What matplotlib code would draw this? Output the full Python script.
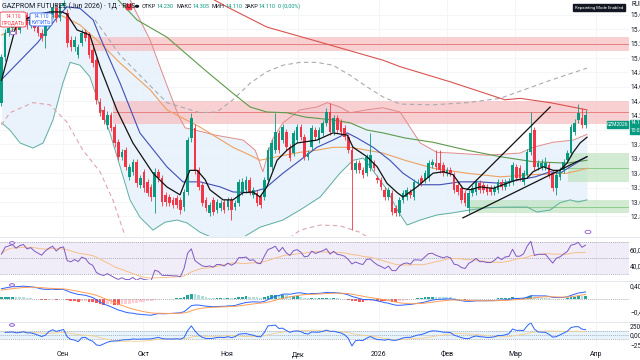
import numpy as np
import pandas as pd
import matplotlib
matplotlib.use("Agg")
import matplotlib.pyplot as plt
import matplotlib.transforms as mtrans
from matplotlib.patches import Rectangle, FancyBboxPatch, Circle

plt.rcParams['font.family'] = ['Roboto', 'DejaVu Sans']

# ---------------- DATA ----------------
opens = [14.38,15.01,15.35,15.42,15.50,15.39,15.53,15.60,15.46,15.53,
         15.43,15.35,15.30,15.46,15.60,15.70,15.55,15.72,15.63,15.25,
         15.15,15.04,15.21,15.36,15.32,15.11,14.97,14.39,14.28,14.07,
         14.21,14.04,13.83,13.63,13.72,13.35,13.42,13.56,13.24,13.42,
         13.28,13.21,13.07,13.42,13.33,13.10,13.07,13.03,13.06,13.03,
         12.93,13.14,13.89,14.03,13.44,13.24,13.03,12.85,13.03,12.89,
         12.92,13.00,12.93,13.03,12.93,12.99,13.14,13.17,13.31,13.10,
         13.13,13.07,13.07,13.31,13.49,13.72,13.96,13.86,13.97,13.76,
         13.68,13.86,14.04,13.90,13.63,13.76,14.00,13.86,13.96,14.10,
         14.25,13.97,14.17,14.11,14.03,13.90,13.72,13.44,13.54,13.44,
         13.40,13.47,13.54,13.33,13.31,13.17,13.07,13.13,12.92,12.85,
         13.03,13.07,13.14,13.07,13.26,13.33,13.31,13.33,13.51,13.54,
         13.54,13.51,13.40,13.44,13.38,13.24,13.19,13.13,12.92,13.13,
         13.14,13.26,13.24,13.21,13.19,13.14,13.17,13.28,13.21,13.26,
         13.28,13.49,13.47,13.28,13.38,13.69,14.00,13.49,13.49,13.49,
         13.51,13.40,13.19,13.35,13.44,13.58,13.68,13.97,14.14,14.17,
         14.07]
closes = [15.01,15.35,15.42,15.50,15.39,15.53,15.60,15.46,15.53,15.42,
          15.35,15.28,15.46,15.60,15.70,15.55,15.72,15.76,15.21,15.15,
          15.25,15.15,15.35,15.28,15.04,14.93,14.42,14.24,14.14,14.21,
          14.03,13.82,13.63,13.69,13.49,13.49,13.56,13.26,13.33,13.19,
          13.13,13.07,13.42,13.33,13.00,13.00,12.99,12.96,12.96,12.89,
          13.14,13.86,14.17,13.44,13.21,12.99,12.92,12.96,12.86,13.00,
          12.99,12.89,13.03,12.89,12.99,13.28,13.28,13.31,13.14,13.17,
          12.99,12.96,13.31,13.72,13.82,13.97,13.72,14.04,13.76,13.61,
          13.96,14.04,13.90,13.63,13.68,14.03,13.90,14.00,14.10,14.25,
          13.97,14.17,14.00,13.97,13.90,13.72,13.44,13.54,13.44,13.38,
          13.63,13.65,13.47,13.31,13.21,13.07,13.17,12.86,12.85,13.03,
          13.13,13.17,13.10,13.28,13.28,13.26,13.40,13.54,13.56,13.49,
          13.44,13.40,13.44,13.40,13.17,13.14,13.03,12.99,13.13,13.19,
          13.28,13.17,13.17,13.14,13.14,13.19,13.28,13.21,13.28,13.29,
          13.51,13.33,13.33,13.40,13.69,13.96,13.49,13.54,13.54,13.54,
          13.38,13.19,13.38,13.44,13.56,13.68,14.04,14.10,14.24,14.07,
          14.21]
highs = [15.06,15.40,15.47,15.55,15.56,15.58,15.65,15.64,15.58,15.57,
         15.48,15.40,15.50,15.65,15.76,15.75,15.77,15.80,15.68,15.30,
         15.30,15.20,15.40,15.40,15.36,15.16,15.02,14.45,14.33,14.26,
         14.25,14.08,13.88,13.74,13.76,13.53,13.60,13.60,13.37,13.46,
         13.32,13.25,13.47,13.46,13.37,13.14,13.11,13.07,13.10,13.07,
         13.18,13.90,14.24,14.08,13.48,13.28,13.07,13.00,13.07,13.04,
         13.03,13.04,13.07,13.07,13.03,13.32,13.33,13.36,13.35,13.21,
         13.17,13.11,13.35,13.76,13.87,14.24,14.00,14.08,14.01,13.80,
         14.00,14.08,14.08,13.94,13.72,14.07,14.04,14.04,14.14,14.30,
         14.38,14.21,14.21,14.15,14.07,13.94,13.76,13.58,13.58,13.48,
         13.67,13.96,13.58,13.37,13.35,13.21,13.21,13.17,12.96,13.07,
         13.17,13.21,13.18,13.32,13.32,13.37,13.44,13.58,13.60,13.72,
         13.72,13.55,13.48,13.48,13.42,13.28,13.23,13.17,13.17,13.23,
         13.32,13.30,13.28,13.25,13.23,13.23,13.32,13.32,13.32,13.33,
         13.56,13.53,13.51,13.44,13.74,14.25,14.04,13.58,13.60,13.62,
         13.55,13.44,13.42,13.48,13.60,13.72,14.08,14.16,14.36,14.30,
         14.28]
lows = [14.33,14.96,15.30,15.38,15.34,15.35,15.48,15.41,15.42,15.37,
        15.30,15.23,15.14,15.42,15.56,15.50,15.51,15.68,15.16,15.10,
        15.10,15.00,15.17,15.24,15.00,14.88,14.36,14.19,14.09,14.02,
        13.98,13.77,13.58,13.58,13.44,13.30,13.37,13.21,13.19,13.14,
        13.08,13.02,12.85,13.28,12.95,12.95,12.94,12.91,12.91,12.84,
        12.88,13.10,13.84,13.39,13.16,12.94,12.87,12.81,12.82,12.85,
        12.88,12.85,12.89,12.75,12.89,12.95,13.10,13.13,13.10,13.06,
        12.95,12.92,13.03,13.27,13.45,13.68,13.68,13.82,13.72,13.57,
        13.64,13.82,13.86,13.58,13.59,13.72,13.86,13.82,13.92,14.06,
        13.93,13.93,13.96,13.93,13.86,13.68,12.61,13.40,13.40,13.34,
        13.36,13.43,13.43,13.27,13.17,13.03,13.03,12.82,12.81,12.81,
        12.99,13.03,13.06,13.03,13.22,13.22,13.27,13.29,13.47,13.45,
        13.40,13.36,13.36,13.36,13.13,13.10,12.99,12.95,12.85,13.09,
        13.10,13.13,13.13,13.10,13.10,13.10,13.13,13.17,13.17,13.22,
        13.24,13.29,13.29,13.24,13.34,13.65,13.45,13.45,13.45,13.45,
        13.34,13.15,13.10,13.31,13.40,13.54,13.64,13.93,14.10,14.03,
        14.03]

month_pos = [16.8, 38.8, 61.8, 81.2, 103.4, 122.0, 140.7, 162.9]
month_labels = ['Сен', 'Окт', 'Ноя', 'Дек', '2026', 'Фев', 'Мар', 'Апр']
price_ticks = [12.8, 13.0, 13.2, 13.4, 13.6, 13.8, 14.0, 14.2, 14.4, 14.6, 14.8, 15.0, 15.2, 15.4, 15.6]

rsi_start = 55.0
rsi_move = 0.05
macd_ema12_start = 14.75
macd_ema26_start = 14.45
macd_signal_start = 0.25

# overlay lines (bar index, price)
ema_fast_x = [0,4.2,9.2,13.3,16.6,17.9,20.7,24.2,27.0,31.6,36.0,41.5,45.3,48.9,50.3,51.6,53.6,55.8,57.1,60.7,63.4,66.2,68.9,70.8,72.7,75.5,78.2,81.0,86.4,90.8,94.7,96.3,100.1,102.9,105.6,108.4,110.0,113.8,118.2,121.0,123.7,126.4,128.4,131.1,134.7,137.4,141.2,144.0,145.6,148.4,151.1,153.0,154.9,156.6,158.5,160.4]
ema_fast_y = [14.69,15.49,15.60,15.64,15.64,15.61,15.39,15.32,14.88,14.28,13.82,13.40,13.21,13.10,13.28,13.44,13.44,13.31,13.17,13.03,13.03,13.13,13.14,13.07,13.21,13.58,13.72,13.82,13.86,13.96,13.93,13.76,13.63,13.49,13.26,13.13,13.07,13.21,13.40,13.42,13.38,13.19,13.17,13.21,13.19,13.24,13.31,13.33,13.42,13.49,13.44,13.44,13.54,13.69,13.82,13.90]
ma_blue_x = [0,10.0,14.7,17.9,21.5,25.1,27.0,32.5,37.9,45.3,49.7,54.4,59.9,63.4,68.1,72.2,77.1,81.8,86.4,90.8,94.7,97.4,101.8,106.4,110.0,114.7,120.1,125.6,131.1,136.6,142.1,146.2,150.3,153.0,155.8,160.4]
ma_blue_y = [14.70,15.22,15.53,15.71,15.69,15.53,15.29,14.65,13.96,13.49,13.28,13.28,13.21,13.14,13.13,13.19,13.40,13.58,13.76,13.86,13.96,13.89,13.76,13.58,13.40,13.24,13.24,13.28,13.28,13.26,13.31,13.35,13.42,13.40,13.49,13.63]
ma_orange_x = [0,7.8,16.0,21.5,27.0,32.5,40.7,45.3,54.4,63.4,68.1,70.8,75.5,81.8,86.4,90.8,95.5,100.1,104.5,110.5,118.2,127.5,136.6,145.6,154.9,160.7]
ma_orange_y = [15.32,15.50,15.60,15.46,15.21,14.93,14.56,14.28,14.04,13.76,13.65,13.58,13.63,13.69,13.72,13.76,13.76,13.72,13.68,13.58,13.47,13.40,13.35,13.38,13.40,13.47]
ma_green_x = [28.4,31.9,37.1,45.3,55.8,63.4,68.1,72.7,78.2,83.2,90.8,95.5,100.1,104.5,110.5,118.2,127.5,136.6,145.6,154.9,160.4]
ma_green_y = [15.94,15.81,15.53,15.29,14.83,14.51,14.32,14.25,14.24,14.18,14.14,14.10,14.00,13.96,13.89,13.83,13.72,13.63,13.56,13.54,13.58]
ma_red_x = [56.7,61.8,72.7,87.3,104.5,109.2,122.9,137.9,142.1,150.3,160.4]
ma_red_y = [15.85,15.71,15.43,15.22,14.97,14.88,14.67,14.42,14.44,14.38,14.28]
bb_up_x = [0,16.0,27.0,35.2,40.7,44.8,48.4,50.3,53.0,58.5,66.2,69.5,71.6,74.1,77.1,81.8,86.4,89.2,92.7,95.5,100.1,104.5,109.2,111.9,114.7,119.3,123.7,133.0,142.1,145.6,151.1,156.6,160.4]
bb_up_y = [16.08,16.15,15.94,15.81,15.25,14.69,14.21,14.03,14.00,13.93,13.86,13.72,13.42,13.86,14.10,14.28,14.32,14.38,14.32,14.24,14.28,14.31,14.25,14.04,13.82,13.69,13.68,13.65,13.68,13.76,13.83,13.86,13.94]
bb_lo_x = [0,2.3,5.1,8.6,11.4,14.1,16.8,18.8,21.5,24.2,27.0,29.7,32.5,35.2,37.9,41.5,44.8,48.1,50.8,54.4,62.6,70.8,77.1,81.8,87.3,92.7,96.3,99.1,101.0,105.6,108.4,111.1,114.7,119.3,123.7,128.4,133.0,138.5,144.0,146.7,150.3,153.0,155.8,157.9,160.4]
bb_lo_y = [14.10,14.00,13.82,13.75,13.82,14.14,14.65,14.94,14.90,14.74,14.32,13.96,13.49,13.03,12.79,12.61,12.72,12.75,12.71,12.58,12.40,12.65,12.75,12.89,13.07,13.40,13.58,13.61,13.49,13.17,12.89,12.68,12.75,12.82,12.85,12.89,12.92,12.93,12.93,12.86,12.89,12.99,13.03,13.00,13.03]
env_up_x = [25.6,32.5,45.3,54.4,59.0,63.4,68.1,72.7,77.1,81.8,86.4,90.8,95.5,100.1,104.5,109.2,118.2,127.5,136.6,150.3,160.4]
env_up_y = [15.53,15.04,14.38,14.24,14.25,14.42,14.65,14.81,14.90,14.94,14.94,14.90,14.76,14.60,14.46,14.36,14.35,14.38,14.44,14.69,14.86]
env_lo_x = [0,2.3,8.6,13.3,17.9,22.3,27.0,30.5,33.3,35.2,54.4,76.3,81.8,87.3,92.7,98.2,103.7]
env_lo_y = [14.07,14.24,14.38,14.35,14.11,13.72,13.42,13.03,12.61,12.33,11.64,12.40,12.61,12.68,12.67,12.58,12.40]

red_zones = [(23.7, 15.10, 15.29, 15.20), (30.5, 14.08, 14.40, 14.25)]
green_zones = [(155.2, 13.28, 13.68, 13.47), (128.4, 12.85, 13.03, 12.93)]
trend_lines = [((126.4, 12.78), (160.4, 13.63)), ((127.5, 13.17), (150.3, 14.32))]

hdr_pairs = [('ОТКР', '14.230'), ('МАКС', '14.305'), ('МИН', '14.110'), ('ЗАКР', '14.110'), ('', '0 (0,00%)')]

# ---------------- FIGURE ----------------
W, H = 640, 360
fig = plt.figure(figsize=(6.4, 3.6), dpi=100)
fig.patch.set_facecolor('white')
XR = 629 / W

def fy(px):
    return 1 - px / H

ax = fig.add_axes([0, fy(236), XR, 236 / H])
ax_rsi = fig.add_axes([0, fy(280), XR, 43 / H], sharex=ax)
ax_macd = fig.add_axes([0, fy(321), XR, 40 / H], sharex=ax)
ax_cci = fig.add_axes([0, fy(348), XR, 26 / H], sharex=ax)

n = len(closes)
x = np.arange(n)
XMIN, XMAX = -0.41, 171.9
ax.set_xlim(XMIN, XMAX)
ax.set_ylim(12.528, 15.806)

for a in (ax, ax_rsi, ax_macd, ax_cci):
    a.set_facecolor('white')
    for s in a.spines.values():
        s.set_visible(False)
    a.yaxis.tick_right()
    a.tick_params(axis='y', length=0, pad=0.8, labelsize=4.8, colors='#131722')
    a.tick_params(axis='x', length=0, labelbottom=False)
    a.set_xticks([])
    for v in month_pos:
        a.axvline(v, color='#f2f4f8', lw=0.6, zorder=0)

for yy in (236.5, 280.5, 321.5):
    fig.add_artist(plt.Line2D([0, 1], [fy(yy), fy(yy)], color='#e0e3eb', lw=0.6))

ax.set_yticks(price_ticks)
ax.set_yticklabels(['%.3f' % p for p in price_ticks])
for p in price_ticks:
    ax.axhline(p, color='#f2f4f8', lw=0.6, zorder=0)

gx = np.linspace(0, 160.4, 600)
up_i = np.interp(gx, bb_up_x, bb_up_y)
lo_i = np.interp(gx, bb_lo_x, bb_lo_y)
ax.fill_between(gx, lo_i, up_i, color='#e3f0fb', alpha=0.75, lw=0, zorder=1)

for sx, lo, hi, mid in red_zones:
    ax.add_patch(Rectangle((sx, lo), XMAX - sx, hi - lo, color='#f7b7b9', alpha=0.65, lw=0, zorder=1.5))
    ax.plot([sx, XMAX], [mid, mid], color='#e57373', lw=0.6, zorder=1.6)
for sx, lo, hi, mid in green_zones:
    ax.add_patch(Rectangle((sx, lo), XMAX - sx, hi - lo, color='#bfe3c0', alpha=0.7, lw=0, zorder=1.5))
    ax.plot([sx, XMAX], [mid, mid], color='#81c784', lw=0.6, zorder=1.6)

ax.plot(bb_up_x, bb_up_y, color='#e08a8a', lw=0.7, zorder=2)
ax.plot(bb_lo_x, bb_lo_y, color='#5fae9f', lw=0.7, zorder=2)
ax.plot(env_up_x, env_up_y, color='#a9a9b0', lw=0.8, ls=(0, (4, 3)), zorder=2)
ax.plot(env_lo_x, env_lo_y, color='#e0a4ae', lw=0.8, ls=(0, (4, 3)), zorder=2)
ax.plot(ma_red_x, ma_red_y, color='#d9534f', lw=0.8, zorder=2.2)
ax.plot(ma_green_x, ma_green_y, color='#5e9a4a', lw=0.8, zorder=2.2)
ax.plot(ma_orange_x, ma_orange_y, color='#eea160', lw=0.8, zorder=2.2)
ax.plot(ma_blue_x, ma_blue_y, color='#3d4fb5', lw=0.8, zorder=2.3)

up_c, dn_c = '#089981', '#f23645'
cols = [up_c if c >= o else dn_c for o, c in zip(opens, closes)]
ax.vlines(x, lows, highs, colors=cols, lw=0.6, zorder=3)
bot = np.minimum(opens, closes)
hgt = np.maximum(np.abs(np.array(closes) - np.array(opens)), 0.01)
ax.bar(x, hgt, bottom=bot, width=0.72, color=cols, lw=0, zorder=3.1)

ax.plot(ema_fast_x, ema_fast_y, color='#111111', lw=0.9, zorder=3.5)
for (x0, y0), (x1, y1) in trend_lines:
    ax.plot([x0, x1], [y0, y1], color='#111111', lw=0.9, zorder=3.6)

# ---------------- oscillators ----------------
cl = np.array(closes)
hi_a = np.array(highs)
lo_a = np.array(lows)

avg_l = rsi_move
avg_g = rsi_move * rsi_start / (100 - rsi_start)
rsi = [rsi_start]
for i in range(1, n):
    ch = cl[i] - cl[i - 1]
    avg_g = (avg_g * 13 + max(ch, 0)) / 14
    avg_l = (avg_l * 13 + max(-ch, 0)) / 14
    rsi.append(100 - 100 / (1 + avg_g / avg_l))
rsi = pd.Series(rsi)
rsi_ma = rsi.rolling(14, min_periods=1).mean()
ax_rsi.set_ylim(22.5, 76.25)
ax_rsi.axhspan(30, 70, color='#7e57c2', alpha=0.1, lw=0)
for lv in (30, 50, 70):
    ax_rsi.axhline(lv, color='#9598a1', lw=0.5, ls=(0, (1.5, 1.5)))
ax_rsi.plot(x, rsi_ma, color='#f5c08a', lw=0.7)
ax_rsi.plot(x, rsi, color='#7e57c2', lw=0.7)
ax_rsi.set_yticks([40, 60])
ax_rsi.set_yticklabels(['40,00', '60,00'])

e12, e26, sg = macd_ema12_start, macd_ema26_start, macd_signal_start
macd, sig = [], []
for i in range(n):
    e12 += (cl[i] - e12) * 2 / 13
    e26 += (cl[i] - e26) * 2 / 27
    m = e12 - e26
    sg += (m - sg) * 2 / 10
    macd.append(m)
    sig.append(sg)
macd = np.array(macd)
sig = np.array(sig)
hist = macd - sig
hcols = []
for i, hv in enumerate(hist):
    prev = hist[i - 1] if i > 0 else 0
    if hv >= 0:
        hcols.append('#26a69a' if hv >= prev else '#b2dfdb')
    else:
        hcols.append('#ff5252' if hv <= prev else '#ffcdd2')
ax_macd.set_ylim(-0.67, 0.53)
ax_macd.axhline(0, color='#9598a1', lw=0.5, ls=(0, (1.5, 1.5)))
ax_macd.bar(x, hist, width=0.75, color=hcols, lw=0)
ax_macd.plot(x, macd, color='#2962ff', lw=0.7)
ax_macd.plot(x, sig, color='#ff9e57', lw=0.7)
ax_macd.set_yticks([-0.4, 0.4])
ax_macd.set_yticklabels(['−0,400', '0,400'])

tp = pd.Series((cl + hi_a + lo_a) / 3)
sma = tp.rolling(20, min_periods=2).mean()
md = tp.rolling(20, min_periods=2).apply(lambda v: np.mean(np.abs(v - v.mean())), raw=True)
cci = (tp - sma) / (0.015 * md)
cci_ma = cci.rolling(14, min_periods=1).mean()
ax_cci.set_ylim(-330, 330)
ax_cci.axhspan(-100, 100, color='#2196f3', alpha=0.1, lw=0)
for lv in (-100, 0, 100):
    ax_cci.axhline(lv, color='#9598a1', lw=0.5, ls=(0, (1.5, 1.5)))
ax_cci.plot(x, cci_ma, color='#f5d08a', lw=0.6)
ax_cci.plot(x, cci, color='#2962ff', lw=0.7)
ax_cci.set_yticks([-250, 0, 250])
ax_cci.set_yticklabels(['−250,00', '0,00', '250,00'])
ax.set_xlim(XMIN, XMAX)

# month labels on a common baseline
blend = mtrans.blended_transform_factory(ax_cci.transData, fig.transFigure)
for pos, lab in zip(month_pos, month_labels):
    ax_cci.text(pos, fy(356.5), lab, transform=blend, fontsize=5.0, color='#131722',
                ha='center', va='baseline', clip_on=False)

# ---------------- header / overlays ----------------
renderer = fig.canvas.get_renderer()
fig.text(2 / W, fy(6), 'GAZPROM FUTURES (Jun 2026) · 1Д · RUS', fontsize=5.0, color='#131722', va='center')
fig.add_artist(Rectangle((126 / W, fy(8.5)), 4.5 / W, 4.5 / H, color='#f23645', transform=fig.transFigure))
fig.add_artist(Circle((137 / W, fy(6.3)), 1.5 / W, color='#131722', transform=fig.transFigure))
xp = 142.0
for lab, val in hdr_pairs:
    if lab:
        t = fig.text(xp / W, fy(6), lab, fontsize=4.0, color='#131722', va='center')
        xp = t.get_window_extent(renderer).x1 + 0.5
    t = fig.text(xp / W, fy(6), val, fontsize=4.0, color='#089981', va='center')
    xp = t.get_window_extent(renderer).x1 + 2.5

def box(x0, y0, w, h, ec):
    fig.add_artist(FancyBboxPatch((x0 / W, fy(y0 + h)), w / W, h / H, boxstyle='round,pad=0,rounding_size=0.004',
                                  fc='white', ec=ec, lw=0.6, transform=fig.transFigure, zorder=10))
box(0, 12, 26, 15, '#f23645')
fig.text(13 / W, fy(16.5), '14.110', fontsize=3.6, color='#f23645', ha='center', va='center', zorder=11)
fig.text(13 / W, fy(22.8), 'ПРОДАТЬ', fontsize=3.6, color='#f23645', ha='center', va='center', zorder=11)
box(30, 13, 22, 13, '#2962ff')
fig.text(41 / W, fy(17), '14.110', fontsize=3.6, color='#2962ff', ha='center', va='center', zorder=11)
fig.text(41 / W, fy(22.6), 'КУПИТЬ', fontsize=3.6, color='#2962ff', ha='center', va='center', zorder=11)
fig.text(28 / W, fy(19.5), '≡', fontsize=3.6, color='#131722', ha='center', va='center', zorder=11)

fig.add_artist(Rectangle((573 / W, fy(11)), 52 / W, 7 / H, color='#131722', transform=fig.transFigure, zorder=10))
fig.text(599 / W, fy(7.5), 'Repainting Mode Enabled', fontsize=3.1, color='white', ha='center', va='center', zorder=11)
fig.text(632 / W, fy(5), 'RUB', fontsize=4.8, color='#131722', va='center')

fig.add_artist(Rectangle((607 / W, fy(128)), 21 / W, 7 / H, color='#089981', transform=fig.transFigure, zorder=10))
fig.text(617.5 / W, fy(124.5), 'GZM2026', fontsize=3.5, color='white', ha='center', va='center', zorder=11)
fig.add_artist(Rectangle((630 / W, fy(134)), 10 / W, 14 / H, color='#089981', transform=fig.transFigure, zorder=10))
fig.text(631 / W, fy(123.0), '14.110', fontsize=3.5, color='white', va='center', zorder=11)
fig.text(631 / W, fy(130.5), '15:02', fontsize=3.5, color='white', va='center', zorder=11)

for (cx, cy) in [(13, 33), (588, 232)]:
    fig.add_artist(Circle((cx / W, fy(cy)), 3 / W, fc='white', ec='#8e5bd0', lw=0.6, transform=fig.transFigure, zorder=12))
for cy in (243, 285, 325):
    fig.add_artist(Circle((12 / W, fy(cy)), 2.5 / W, fc='#e9e1f7', ec='#8e5bd0', lw=0.6, transform=fig.transFigure, zorder=12))

fig.savefig('out.png', dpi=100)
